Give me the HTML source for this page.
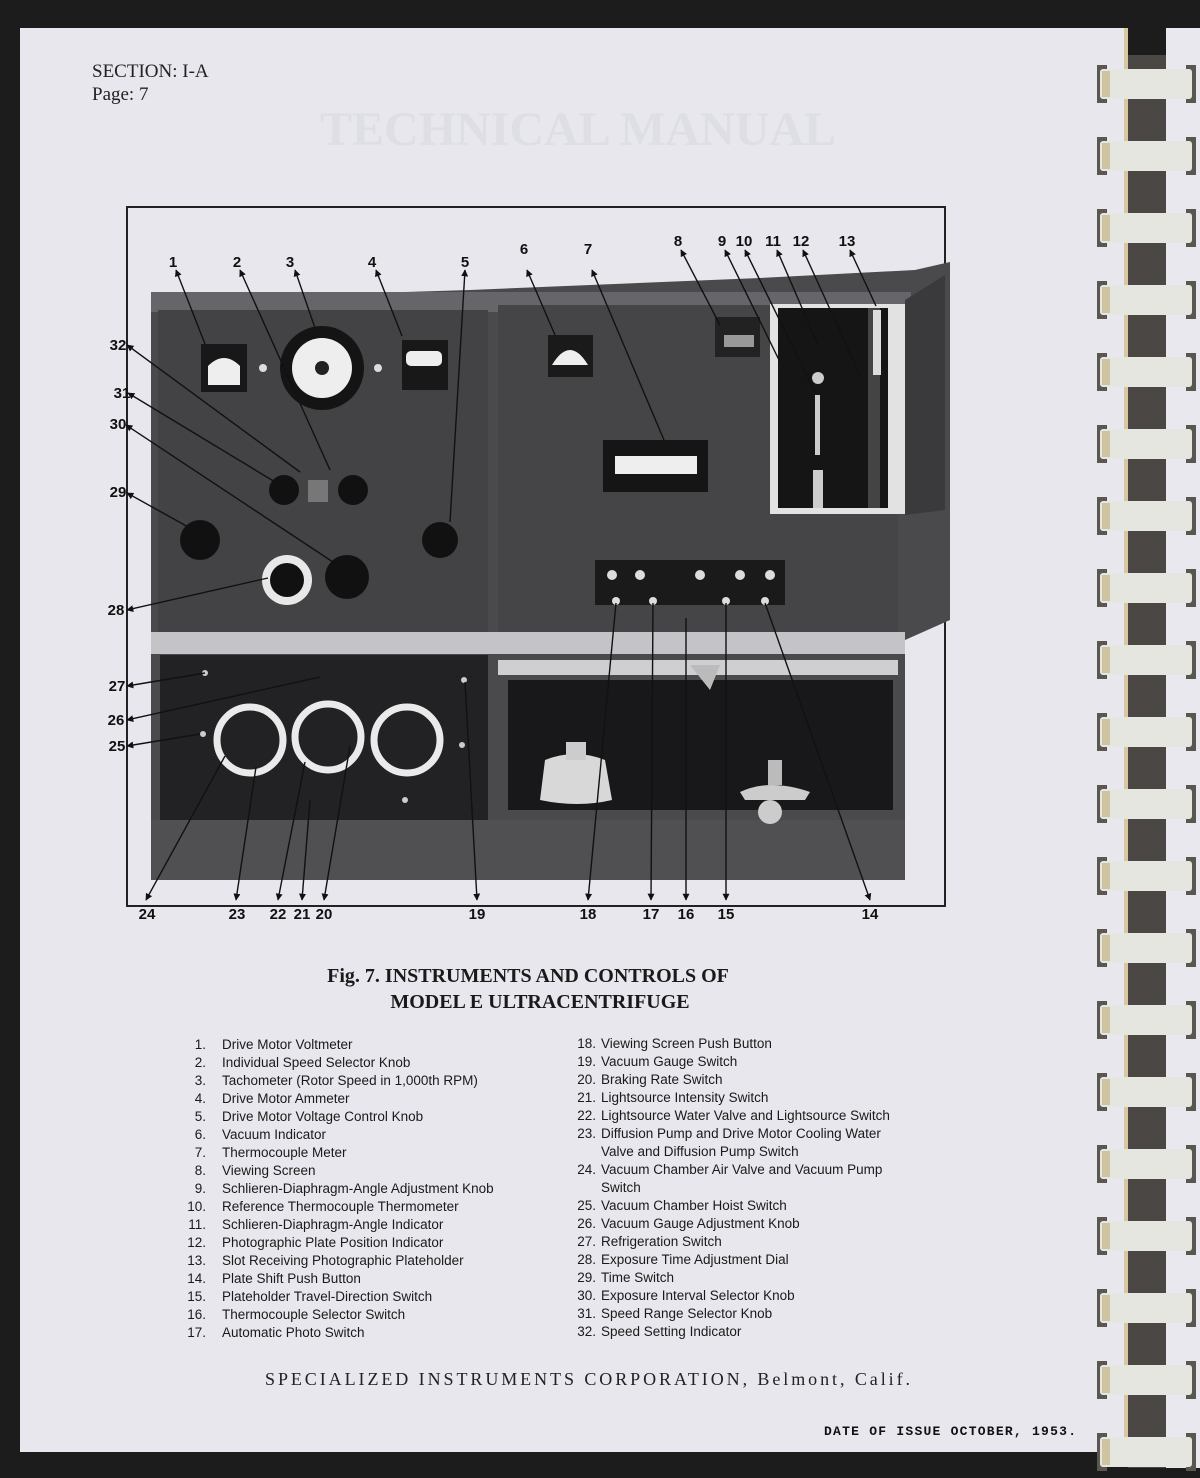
<!DOCTYPE html>
<html><head><meta charset="utf-8"><style>
html,body{margin:0;padding:0;background:#1a1a1a;}
svg{display:block}
.num{font-family:"Liberation Sans",sans-serif;font-size:15px;font-weight:bold;fill:#111}
.li{font-family:"Liberation Sans",sans-serif;font-size:13.5px;fill:#1a1a1a}
</style></head><body>
<svg width="1200" height="1478" viewBox="0 0 1200 1478" xmlns="http://www.w3.org/2000/svg">
<defs>
<marker id="ar" viewBox="0 0 10 10" refX="9" refY="5" markerWidth="5" markerHeight="5" orient="auto-start-reverse"><path d="M0,0 L10,5 L0,10 z" fill="#111"/></marker>
</defs>
<rect width="1200" height="1478" fill="#1c1c1c"/>
<rect x="1166" y="28" width="40" height="1440" fill="#e8e8ee"/>
<rect x="1128" y="55" width="38" height="1413" fill="#4a4744"/>
<rect x="20" y="28" width="1108" height="1424" fill="#e7e7ed"/>
<rect x="1124" y="28" width="4" height="1424" fill="#d8c8a0"/>
<text x="320" y="145" font-family="Liberation Serif" font-size="48" font-weight="bold" fill="#dedee5">TECHNICAL MANUAL</text>
<g id="rings">
<g transform="translate(0,65)"><rect x="1097" y="0" width="10" height="38" fill="#5a5650"/><rect x="1186" y="0" width="10" height="38" fill="#5a5650"/><rect x="1100" y="4" width="92" height="30" rx="3" fill="#e4e6df"/><rect x="1102" y="6" width="8" height="26" fill="#cfc49f"/></g>
</g>
<use href="#rings" y="72"/><use href="#rings" y="144"/><use href="#rings" y="216"/><use href="#rings" y="288"/><use href="#rings" y="360"/><use href="#rings" y="432"/><use href="#rings" y="504"/><use href="#rings" y="576"/><use href="#rings" y="648"/><use href="#rings" y="720"/><use href="#rings" y="792"/><use href="#rings" y="864"/><use href="#rings" y="936"/><use href="#rings" y="1008"/><use href="#rings" y="1080"/><use href="#rings" y="1152"/><use href="#rings" y="1224"/><use href="#rings" y="1296"/><use href="#rings" y="1368"/>

<text x="92" y="77" font-family="Liberation Serif" font-size="19" fill="#222">SECTION: I-A</text>
<text x="92" y="100" font-family="Liberation Serif" font-size="19" fill="#222">Page: 7</text>

<rect x="127" y="207" width="818" height="699" fill="none" stroke="#222" stroke-width="2"/>

<g>
<path d="M151,300 L470,290 L760,278 L915,270 L950,262 L950,620 L905,640 L905,880 L151,880 Z" fill="#4a4a4c"/>
<rect x="151" y="292" width="760" height="20" fill="#66666a"/>
<rect x="158" y="310" width="330" height="322" fill="#434345"/>
<rect x="498" y="305" width="400" height="330" fill="#454547"/>
<rect x="151" y="632" width="754" height="22" fill="#c4c4c8"/>
<rect x="201" y="344" width="46" height="48" fill="#181818"/><path d="M208,385 L208,366 Q224,350 240,366 L240,385 Z" fill="#eee"/>
<circle cx="322" cy="368" r="42" fill="#141414"/><circle cx="322" cy="368" r="30" fill="#eeeeee"/><circle cx="322" cy="368" r="7" fill="#222"/>
<rect x="402" y="340" width="46" height="50" fill="#181818"/><rect x="406" y="351" width="36" height="15" fill="#eee" rx="5"/>
<circle cx="263" cy="368" r="4" fill="#ddd"/><circle cx="378" cy="368" r="4" fill="#ddd"/>
<rect x="548" y="335" width="45" height="42" fill="#1a1a1a"/><path d="M552,365 Q570,335 588,365 Z" fill="#eee"/>
<circle cx="284" cy="490" r="15" fill="#111"/><circle cx="353" cy="490" r="15" fill="#111"/>
<rect x="308" y="480" width="20" height="22" fill="#777"/>
<circle cx="200" cy="540" r="20" fill="#111"/><circle cx="440" cy="540" r="18" fill="#111"/>
<circle cx="347" cy="577" r="22" fill="#111"/>
<circle cx="287" cy="580" r="25" fill="#e8e8e8"/><circle cx="287" cy="580" r="17" fill="#111"/>
<rect x="603" y="440" width="105" height="52" fill="#151515"/><rect x="615" y="456" width="82" height="18" fill="#eeeeee"/>
<rect x="715" y="317" width="45" height="40" fill="#222"/><rect x="724" y="335" width="30" height="12" fill="#999"/>
<rect x="770" y="304" width="135" height="210" fill="#e2e2e2"/>
<rect x="778" y="308" width="110" height="200" fill="#151515"/>
<rect x="868" y="308" width="12" height="200" fill="#444"/>
<rect x="873" y="310" width="8" height="65" fill="#ddd"/>
<circle cx="818" cy="378" r="6" fill="#ccc"/>
<rect x="815" y="395" width="5" height="60" fill="#ccc"/>
<rect x="813" y="470" width="10" height="38" fill="#ccc"/>
<path d="M905,300 L945,275 L945,510 L905,515 Z" fill="#3a3a3c"/>
<rect x="595" y="560" width="190" height="45" fill="#1a1a1a"/>
<g fill="#ddd"><circle cx="616" cy="601" r="4"/><circle cx="653" cy="601" r="4"/><circle cx="726" cy="601" r="4"/><circle cx="765" cy="601" r="4"/>
<circle cx="612" cy="575" r="5"/><circle cx="640" cy="575" r="5"/><circle cx="700" cy="575" r="5"/><circle cx="740" cy="575" r="5"/><circle cx="770" cy="575" r="5"/></g>
<rect x="160" y="655" width="328" height="165" fill="#222224"/>
<g fill="none" stroke="#eaeaea" stroke-width="7"><circle cx="250" cy="740" r="33"/><circle cx="328" cy="737" r="33"/><circle cx="407" cy="740" r="33"/></g>
<g fill="#ccc"><circle cx="205" cy="673" r="3"/><circle cx="203" cy="734" r="3"/><circle cx="464" cy="680" r="3"/><circle cx="462" cy="745" r="3"/><circle cx="405" cy="800" r="3"/></g>
<rect x="151" y="820" width="754" height="60" fill="#505052"/>
<rect x="498" y="660" width="400" height="15" fill="#cfcfd2"/>
<rect x="508" y="680" width="385" height="130" fill="#18181a"/>
<path d="M690,665 L720,665 L710,690 Z" fill="#bbb"/>
<path d="M545,760 Q575,748 605,760 L612,800 Q578,808 540,800 Z" fill="#d8d8d8"/>
<rect x="566" y="742" width="20" height="18" fill="#ccc"/>
<path d="M740,792 Q770,778 810,792 L805,800 L745,800 Z" fill="#ccc"/>
<rect x="768" y="760" width="14" height="25" fill="#bbb"/>
<circle cx="770" cy="812" r="12" fill="#ccc"/>
</g>

<g stroke="#111" stroke-width="1.4" marker-start="url(#ar)" fill="none">
<line x1="176" y1="270" x2="205" y2="344"/>
<line x1="240" y1="270" x2="330" y2="470"/>
<line x1="295" y1="270" x2="315" y2="328"/>
<line x1="376" y1="270" x2="402" y2="336"/>
<line x1="465" y1="270" x2="450" y2="522"/>
<line x1="527" y1="270" x2="555" y2="335"/>
<line x1="592" y1="270" x2="664" y2="440"/>
<line x1="681" y1="250" x2="720" y2="325"/>
<line x1="725" y1="250" x2="780" y2="362"/>
<line x1="745" y1="250" x2="815" y2="392"/>
<line x1="777" y1="250" x2="818" y2="345"/>
<line x1="803" y1="250" x2="860" y2="375"/>
<line x1="850" y1="250" x2="876" y2="306"/>
<line x1="127" y1="345" x2="300" y2="472"/>
<line x1="128" y1="393" x2="280" y2="485"/>
<line x1="126" y1="425" x2="345" y2="570"/>
<line x1="127" y1="493" x2="190" y2="528"/>
<line x1="127" y1="610" x2="268" y2="578"/>
<line x1="127" y1="686" x2="205" y2="673"/>
<line x1="127" y1="720" x2="320" y2="677"/>
<line x1="127" y1="746" x2="200" y2="734"/>
<line x1="146" y1="900" x2="225" y2="756"/>
<line x1="236" y1="900" x2="256" y2="767"/>
<line x1="278" y1="900" x2="305" y2="762"/>
<line x1="302" y1="900" x2="310" y2="800"/>
<line x1="324" y1="900" x2="350" y2="746"/>
<line x1="477" y1="900" x2="465" y2="682"/>
<line x1="588" y1="900" x2="616" y2="603"/>
<line x1="651" y1="900" x2="653" y2="603"/>
<line x1="686" y1="900" x2="686" y2="618"/>
<line x1="726" y1="900" x2="726" y2="603"/>
<line x1="870" y1="900" x2="765" y2="603"/>
</g>
<g class="num" text-anchor="middle">
<text x="173" y="267">1</text><text x="237" y="267">2</text><text x="290" y="267">3</text><text x="372" y="267">4</text><text x="465" y="267">5</text><text x="524" y="254">6</text><text x="588" y="254">7</text>
<text x="678" y="246">8</text><text x="722" y="246">9</text><text x="744" y="246">10</text><text x="773" y="246">11</text><text x="801" y="246">12</text><text x="847" y="246">13</text>
<text x="118" y="350">32</text><text x="122" y="398">31</text><text x="118" y="429">30</text><text x="118" y="497">29</text><text x="116" y="615">28</text><text x="117" y="691">27</text><text x="116" y="725">26</text><text x="117" y="751">25</text>
<text x="147" y="919">24</text><text x="237" y="919">23</text><text x="278" y="919">22</text><text x="302" y="919">21</text><text x="324" y="919">20</text><text x="477" y="919">19</text><text x="588" y="919">18</text><text x="651" y="919">17</text><text x="686" y="919">16</text><text x="726" y="919">15</text><text x="870" y="919">14</text>
</g>

<g font-family="Liberation Serif" font-weight="bold" font-size="20" fill="#1a1a1a" text-anchor="middle">
<text x="528" y="982">Fig. 7. INSTRUMENTS AND CONTROLS OF</text>
<text x="540" y="1008">MODEL E ULTRACENTRIFUGE</text>
</g>

<g class="li">
<g text-anchor="end">
<text x="206" y="1049">1.</text><text x="206" y="1067">2.</text><text x="206" y="1085">3.</text><text x="206" y="1103">4.</text><text x="206" y="1121">5.</text><text x="206" y="1139">6.</text><text x="206" y="1157">7.</text><text x="206" y="1175">8.</text><text x="206" y="1193">9.</text><text x="206" y="1211">10.</text><text x="206" y="1229">11.</text><text x="206" y="1247">12.</text><text x="206" y="1265">13.</text><text x="206" y="1283">14.</text><text x="206" y="1301">15.</text><text x="206" y="1319">16.</text><text x="206" y="1337">17.</text>
</g>
<text x="222" y="1049">Drive Motor Voltmeter</text>
<text x="222" y="1067">Individual Speed Selector Knob</text>
<text x="222" y="1085">Tachometer (Rotor Speed in 1,000th RPM)</text>
<text x="222" y="1103">Drive Motor Ammeter</text>
<text x="222" y="1121">Drive Motor Voltage Control Knob</text>
<text x="222" y="1139">Vacuum Indicator</text>
<text x="222" y="1157">Thermocouple Meter</text>
<text x="222" y="1175">Viewing Screen</text>
<text x="222" y="1193">Schlieren-Diaphragm-Angle Adjustment Knob</text>
<text x="222" y="1211">Reference Thermocouple Thermometer</text>
<text x="222" y="1229">Schlieren-Diaphragm-Angle Indicator</text>
<text x="222" y="1247">Photographic Plate Position Indicator</text>
<text x="222" y="1265">Slot Receiving Photographic Plateholder</text>
<text x="222" y="1283">Plate Shift Push Button</text>
<text x="222" y="1301">Plateholder Travel-Direction Switch</text>
<text x="222" y="1319">Thermocouple Selector Switch</text>
<text x="222" y="1337">Automatic Photo Switch</text>
</g>
<g class="li">
<g text-anchor="end">
<text x="596" y="1048">18.</text><text x="596" y="1066">19.</text><text x="596" y="1084">20.</text><text x="596" y="1102">21.</text><text x="596" y="1120">22.</text><text x="596" y="1138">23.</text><text x="596" y="1174">24.</text><text x="596" y="1210">25.</text><text x="596" y="1228">26.</text><text x="596" y="1246">27.</text><text x="596" y="1264">28.</text><text x="596" y="1282">29.</text><text x="596" y="1300">30.</text><text x="596" y="1318">31.</text><text x="596" y="1336">32.</text>
</g>
<text x="601" y="1048">Viewing Screen Push Button</text>
<text x="601" y="1066">Vacuum Gauge Switch</text>
<text x="601" y="1084">Braking Rate Switch</text>
<text x="601" y="1102">Lightsource Intensity Switch</text>
<text x="601" y="1120">Lightsource Water Valve and Lightsource Switch</text>
<text x="601" y="1138">Diffusion Pump and Drive Motor Cooling Water</text>
<text x="601" y="1156">Valve and Diffusion Pump Switch</text>
<text x="601" y="1174">Vacuum Chamber Air Valve and Vacuum Pump</text>
<text x="601" y="1192">Switch</text>
<text x="601" y="1210">Vacuum Chamber Hoist Switch</text>
<text x="601" y="1228">Vacuum Gauge Adjustment Knob</text>
<text x="601" y="1246">Refrigeration Switch</text>
<text x="601" y="1264">Exposure Time Adjustment Dial</text>
<text x="601" y="1282">Time Switch</text>
<text x="601" y="1300">Exposure Interval Selector Knob</text>
<text x="601" y="1318">Speed Range Selector Knob</text>
<text x="601" y="1336">Speed Setting Indicator</text>
</g>

<text x="265" y="1385" font-family="Liberation Serif" font-size="18" fill="#222" textLength="645">SPECIALIZED INSTRUMENTS CORPORATION, Belmont, Calif.</text>
<text x="824" y="1435" font-family="Liberation Mono" font-weight="bold" font-size="13" fill="#111" textLength="252">DATE OF ISSUE OCTOBER, 1953.</text>
</svg>
</body></html>
